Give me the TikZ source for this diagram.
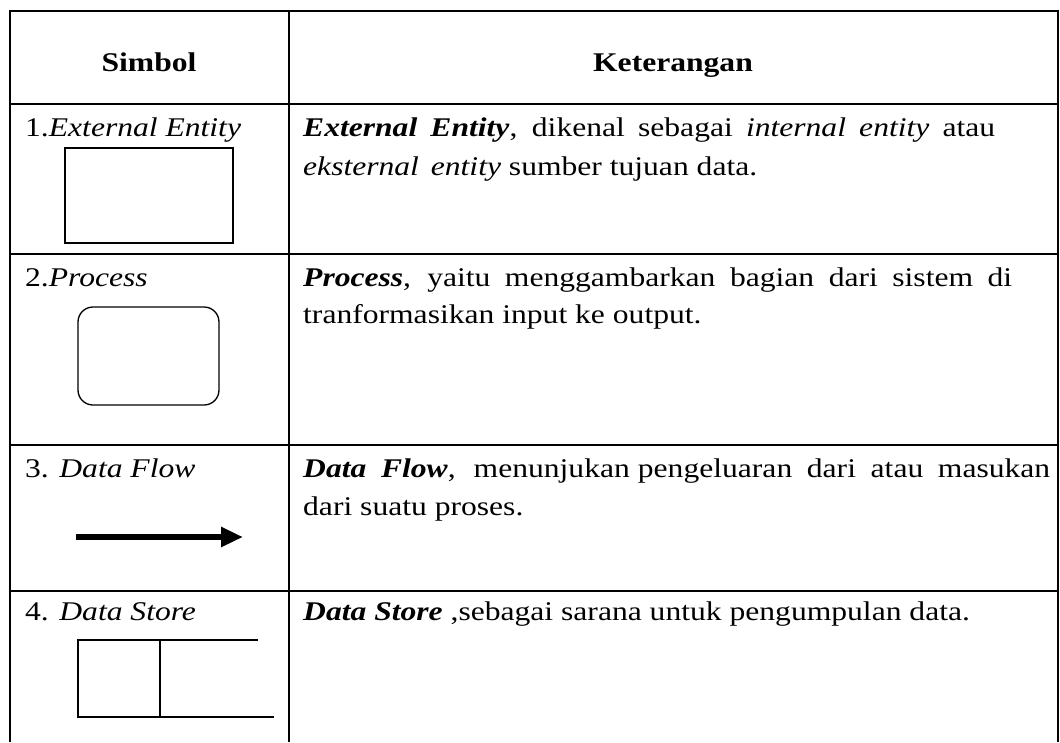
\documentclass[tikz,border=0pt]{standalone}
\usepackage{fontspec}
\setmainfont{Liberation Serif}[FakeStretch=1.17]
\usetikzlibrary{arrows.meta}
\begin{document}
\begin{tikzpicture}[x=1pt,y=-1pt,
  tableline/.style={line width=2pt},
  shapeline/.style={line width=1.3pt},
  txt/.style={anchor=base west, inner sep=0pt, font=\fontsize{27}{32}\selectfont},
  hdr/.style={anchor=base, inner sep=0pt, font=\fontsize{27}{32}\selectfont\bfseries}]
\useasboundingbox (0,0) rectangle (1060,742);
% table grid
\draw[tableline] (10,742) -- (10,11) -- (1058,11) -- (1058,742);
\draw[tableline] (289,11) -- (289,742);
\foreach \yy in {104,254,445,591} \draw[tableline] (10,\yy) -- (1058,\yy);
% header
\node[hdr] (h1) at (149,71) {Simbol};
\node[hdr] (h2) at (673,71) {Keterangan};
% row 1
\node[txt] (s1) at (25,136) {1.\textit{External Entity}};
\node[draw, shapeline, minimum width=168pt, minimum height=95pt, inner sep=0pt] (entity) at (149,195.5) {};
\node[txt] (k1a) at (303,136) {\makebox[692pt][s]{\textbf{\textit{External Entity}}, dikenal sebagai \textit{internal entity} atau}};
\node[txt] (k1b) at (303,175) {\textit{eksternal\hspace{4pt} entity} sumber tujuan data.};
% row 2
\node[txt] (s2) at (25,286) {2.\textit{Process}};
\node[draw, shapeline, rounded corners=15pt, minimum width=141pt, minimum height=98pt, inner sep=0pt] (proc) at (148.5,356) {};
\node[txt] (k2a) at (303,286) {\makebox[709pt][s]{\textbf{\textit{Process}}, yaitu menggambarkan bagian dari sistem di}};
\node[txt] (k2b) at (303,323) {tranformasikan input ke output.};
% row 3
\node[txt] (s3) at (25,477) {3. \textit{Data Flow}};
\coordinate (fa) at (76,537);
\coordinate (fb) at (243,537);
\draw[line width=6pt, -{Triangle[length=22pt,width=19pt]}] (fa) -- (fb);
\node[txt] (k3a) at (303,477) {\makebox[747pt][s]{\textbf{\textit{Data Flow}},\hspace{18pt}menunjukan\hspace{8pt}pengeluaran dari atau masukan}};
\node[txt] (k3b) at (303,515) {dari suatu proses.};
% row 4
\node[txt] (s4) at (25,620) {4. \textit{Data Store}};
\coordinate (dsa) at (258,640);
\coordinate (dsb) at (78,640);
\coordinate (dsc) at (78,717);
\coordinate (dsd) at (274,717);
\coordinate (dse) at (160,640);
\coordinate (dsf) at (160,717);
\draw[shapeline] (dsa) -- (dsb) -- (dsc) -- (dsd);
\draw[shapeline] (dse) -- (dsf);
\node[txt] (k4) at (303,620) {\textbf{\textit{Data Store}} ,sebagai sarana untuk pengumpulan data.};
\end{tikzpicture}
\end{document}
